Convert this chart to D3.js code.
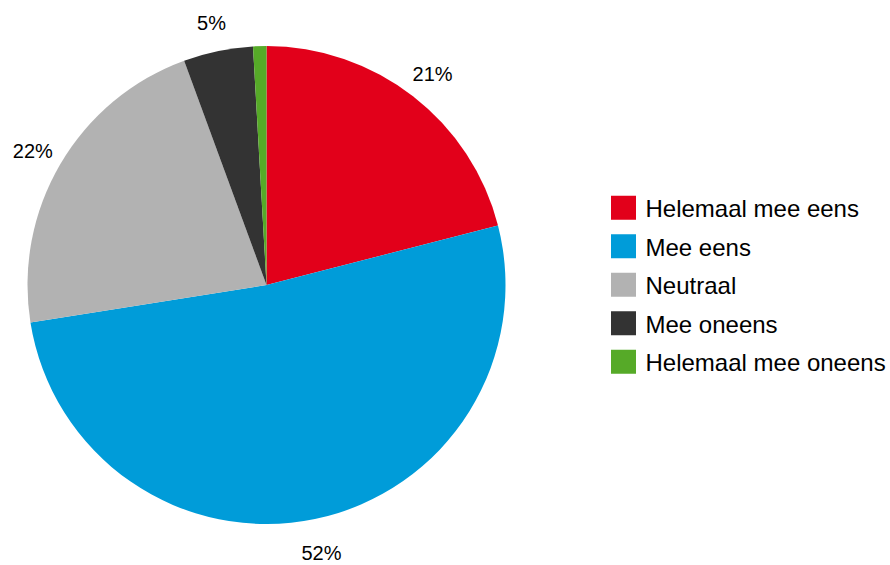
<!DOCTYPE html>
<html>
<head>
<meta charset="utf-8">
<script src="https://cdn.jsdelivr.net/npm/d3@7"></script>
<style>
  body { margin: 0; background: #fff; }
  svg text { font-family: "Liberation Sans", Arial, sans-serif; fill: #000; }
</style>
</head>
<body>
<div id="chart"></div>
<script>
// data
var categories = ['Helemaal mee eens', 'Mee eens', 'Neutraal', 'Mee oneens', 'Helemaal mee oneens'];
var values = [21.0, 51.5, 21.9, 4.7, 0.9];
var labels = ['21%', '52%', '22%', '5%', ''];
var colors = ['#e2001a', '#009cd9', '#b2b2b2', '#333333', '#56aa28'];

var width = 890, height = 565;
var cx = 266.5, cy = 285, radius = 239;

var svg = d3.select('#chart')
  .append('svg')
  .attr('width', width)
  .attr('height', height);

var pie = d3.pie()
  .sort(null)
  .value(function(d) { return d; });

var arcs = pie(values);

var arc = d3.arc()
  .innerRadius(0)
  .outerRadius(radius);

// label ring outside the pie
var labelArc = d3.arc()
  .innerRadius(271)
  .outerRadius(271);

var g = svg.append('g')
  .attr('transform', 'translate(' + cx + ',' + cy + ')');

g.selectAll('path')
  .data(arcs)
  .enter()
  .append('path')
  .attr('d', arc)
  .attr('fill', function(d, i) { return colors[i]; });

g.selectAll('text.lbl')
  .data(arcs)
  .enter()
  .append('text')
  .attr('class', 'lbl')
  .attr('transform', function(d) {
    var c = labelArc.centroid(d);
    return 'translate(' + c[0] + ',' + (c[1] + 3) + ')';
  })
  .attr('text-anchor', 'middle')
  .attr('dominant-baseline', 'central')
  .style('font-size', '20px')
  .text(function(d, i) { return labels[i]; });

// legend
var legendY = d3.scaleBand()
  .domain(categories)
  .range([188.5, 381])
  .paddingInner(0);

var legend = svg.append('g')
  .attr('transform', 'translate(611,0)');

var item = legend.selectAll('g')
  .data(categories)
  .enter()
  .append('g')
  .attr('transform', function(d) {
    return 'translate(0,' + (legendY(d) + legendY.bandwidth() / 2) + ')';
  });

item.append('rect')
  .attr('x', 0)
  .attr('y', -12)
  .attr('width', 25)
  .attr('height', 24)
  .attr('fill', function(d, i) { return colors[i]; });

item.append('text')
  .attr('x', 34.5)
  .attr('y', 1)
  .attr('dominant-baseline', 'central')
  .style('font-size', '24px')
  .text(function(d) { return d; });
</script>
</body>
</html>
